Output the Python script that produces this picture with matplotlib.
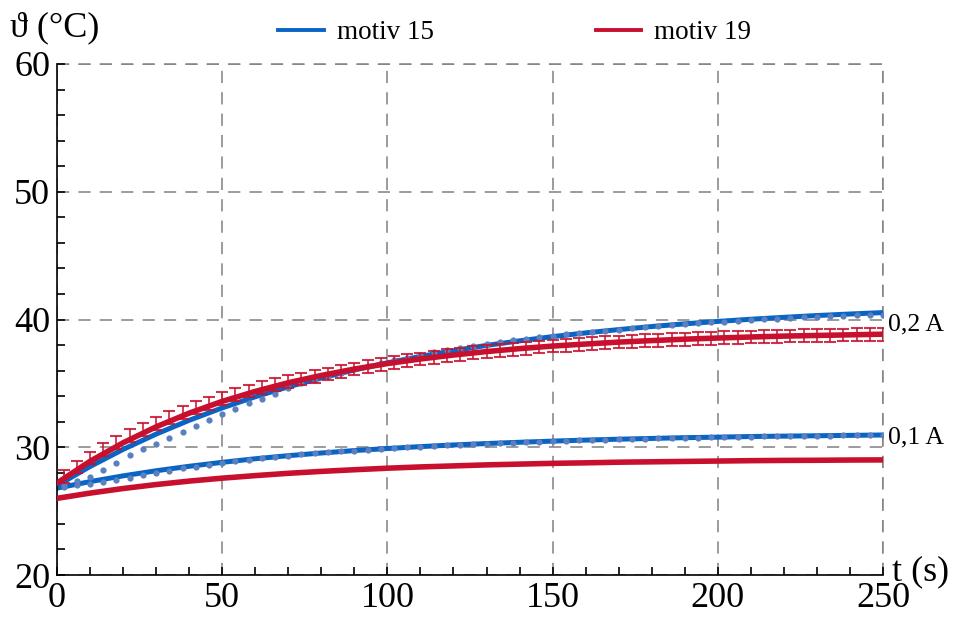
import matplotlib
matplotlib.use('Agg')
import matplotlib.pyplot as plt
from matplotlib.ticker import MultipleLocator
from matplotlib.lines import Line2D
import numpy as np

plt.rcParams['font.family'] = ['Liberation Serif', 'DejaVu Serif']

# temps des mesures (s) et des courbes ajustees
t_meas = np.arange(2, 251, 4)
t_fit = np.arange(0, 251, 10)

# motiv 15, mesures (points)
b02 = [27.05, 27.35, 27.70, 28.20, 28.80, 29.37, 29.84, 30.28, 30.72, 31.20,
       31.66, 32.16, 32.60, 33.03, 33.43, 33.80, 34.20, 34.60, 35.00, 35.30,
       35.60, 35.85, 36.10, 36.35, 36.58, 36.80, 37.02, 37.23, 37.42, 37.60,
       37.78, 37.94, 38.10, 38.24, 38.38, 38.50, 38.62, 38.72, 38.83, 38.93,
       39.02, 39.12, 39.21, 39.30, 39.39, 39.47, 39.55, 39.63, 39.70, 39.77,
       39.84, 39.90, 39.96, 40.01, 40.06, 40.11, 40.16, 40.20, 40.24, 40.28,
       40.32, 40.35, 40.38]
b01 = [26.86, 27.03, 27.16, 27.30, 27.45, 27.63, 27.82, 28.00, 28.18, 28.34,
       28.48, 28.62, 28.78, 28.92, 29.04, 29.15, 29.26, 29.35, 29.44, 29.52,
       29.60, 29.67, 29.74, 29.81, 29.87, 29.93, 29.99, 30.05, 30.10, 30.15,
       30.20, 30.25, 30.29, 30.33, 30.37, 30.41, 30.45, 30.48, 30.51, 30.54,
       30.57, 30.60, 30.63, 30.65, 30.68, 30.70, 30.72, 30.74, 30.76, 30.78,
       30.80, 30.82, 30.84, 30.85, 30.87, 30.88, 30.89, 30.90, 30.91, 30.92,
       30.93, 30.94, 30.95]

# motiv 19, mesures 0,2 A avec barres d'erreur
r02 = [27.70, 28.45, 29.15, 29.80, 30.35, 30.90, 31.40, 31.85, 32.30, 32.70,
       33.10, 33.45, 33.80, 34.10, 34.40, 34.65, 34.90, 35.15, 35.35, 35.55,
       35.73, 35.93, 36.12, 36.30, 36.47, 36.62, 36.77, 36.91, 37.04, 37.16,
       37.28, 37.39, 37.49, 37.59, 37.68, 37.76, 37.84, 37.92, 37.99, 38.05,
       38.12, 38.17, 38.23, 38.28, 38.33, 38.38, 38.42, 38.46, 38.50, 38.53,
       38.57, 38.60, 38.63, 38.66, 38.68, 38.71, 38.73, 38.75, 38.77, 38.79,
       38.81, 38.83, 38.85]
r02_err = 0.5

# courbes ajustees
fit_b02 = [27.00, 28.49, 29.83, 31.03, 32.11, 33.08, 33.95, 34.73, 35.42, 36.05,
           36.61, 37.11, 37.56, 37.97, 38.33, 38.66, 38.95, 39.21, 39.45, 39.66,
           39.85, 40.02, 40.17, 40.31, 40.43, 40.54]
fit_b01 = [26.80, 27.31, 27.76, 28.16, 28.51, 28.82, 29.10, 29.34, 29.55, 29.74,
           29.90, 30.05, 30.18, 30.29, 30.39, 30.48, 30.56, 30.63, 30.69, 30.75,
           30.79, 30.84, 30.87, 30.90, 30.93, 30.96]
fit_r02 = [27.20, 28.90, 30.35, 31.60, 32.67, 33.59, 34.37, 35.05, 35.62, 36.12,
           36.55, 36.91, 37.22, 37.49, 37.72, 37.92, 38.08, 38.23, 38.35, 38.46,
           38.55, 38.63, 38.70, 38.75, 38.80, 38.85]
fit_r01 = [26.00, 26.41, 26.77, 27.08, 27.35, 27.58, 27.78, 27.96, 28.11, 28.24,
           28.36, 28.46, 28.54, 28.62, 28.68, 28.74, 28.78, 28.83, 28.86, 28.89,
           28.92, 28.95, 28.97, 28.98, 29.00, 29.01]

blue = '#0a64c4'
red = '#c8102e'
dotc = '#5a80c0'

fig = plt.figure(figsize=(9.66, 6.21), dpi=100)
ax = fig.add_axes([57/966, 1-575/621, 826/966, 511/621])

ax.plot(t_fit, fit_b02, color=blue, lw=3.6, zorder=2)
ax.plot(t_fit, fit_b01, color=blue, lw=3.6, zorder=2)
ax.plot(t_meas, b02, 'o', ms=4.5, color=dotc, mec='none', zorder=3)
ax.plot(t_meas, b01, 'o', ms=4.5, color=dotc, mec='none', zorder=3)
ax.errorbar(t_meas, r02, yerr=r02_err, fmt='none', ecolor=red, elinewidth=1.3,
            capsize=4.4, capthick=1.5, alpha=0.85, zorder=4)
ax.plot(t_fit, fit_r02, color=red, lw=4, zorder=5)
ax.plot(t_fit, fit_r01, color=red, lw=4, zorder=5)

ax.set_xlim(0, 250)
ax.set_ylim(20, 60)
ax.set_xticks([0, 50, 100, 150, 200, 250])
ax.set_yticks([20, 30, 40, 50, 60])
ax.xaxis.set_minor_locator(MultipleLocator(10))
ax.yaxis.set_minor_locator(MultipleLocator(2))
ax.tick_params(which='both', direction='in', length=6, width=1.2, labelsize=26, pad=5)

gstyle = dict(color='#808080', ls=(0, (8, 6)), lw=1.1)
ax.grid(True, which='major', **gstyle)
ax.axhline(60, clip_on=False, zorder=1, **gstyle)
ax.axvline(250, clip_on=False, zorder=1, **gstyle)
ax.spines['top'].set_visible(False)
ax.spines['right'].set_visible(False)
for s in ['left', 'bottom']:
    ax.spines[s].set_linewidth(1.2)
    ax.spines[s].set_color('black')

fig.text(10/966, 1-28/621, 'ϑ (°C)', fontsize=26, va='center', ha='left')
fig.text(892/966, 1-572/621, 't (s)', fontsize=26, va='center', ha='left')
ax.text(251.5, 39.6, '0,2 A', fontsize=18.5, va='center', ha='left', clip_on=False)
ax.text(251.5, 30.8, '0,1 A', fontsize=18.5, va='center', ha='left', clip_on=False)

handles = [Line2D([], [], color=blue, lw=2.8), Line2D([], [], color=red, lw=2.8)]
fig.legend(handles, ['motiv 15', 'motiv 19'], ncol=2, loc='center',
           bbox_to_anchor=(0.533, 0.947), frameon=False,
           fontsize=19.5, handlelength=1.67, handletextpad=0.48, columnspacing=6,
           borderaxespad=0)

fig.savefig('out.png', dpi=100)
